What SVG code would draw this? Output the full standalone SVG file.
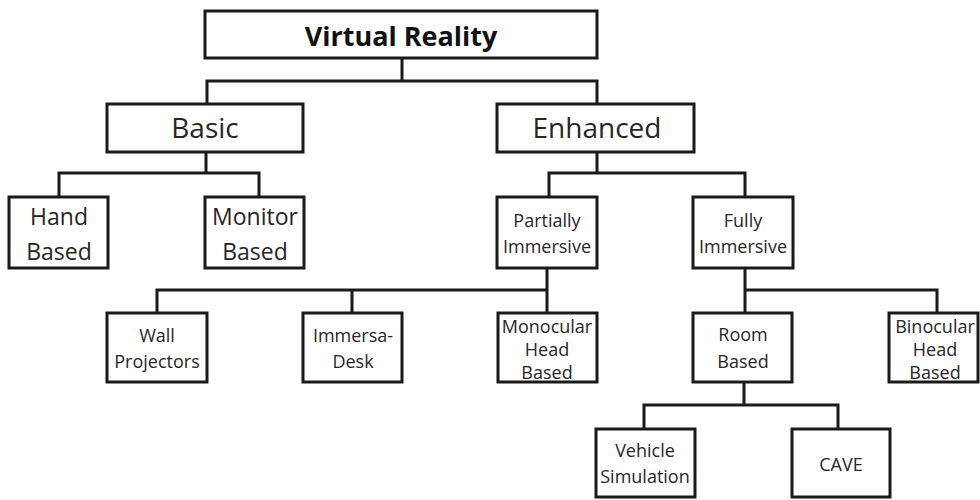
<svg xmlns="http://www.w3.org/2000/svg" width="980" height="500" viewBox="0 0 980 500">
<style>
.box{fill:#fff;stroke:#1a1a1a;stroke-width:3}
.con{fill:none;stroke:#1a1a1a;stroke-width:3}
text{font-family:"Open Sans","Noto Sans",sans-serif;fill:#262626;text-anchor:middle}
.t1{font-size:27px;font-weight:bold;fill:#111}
.t2{font-size:28px}
.t3{font-size:23px}
.t4{font-size:18px}
</style>
<rect width="980" height="500" fill="#fff"/>
<g id="connectors">
<path class="con" d="M402 58V81M207 104V81H597V104"/>
<path class="con" d="M206 152V173M59 197V173H259V197"/>
<path class="con" d="M597 152V173M549 197V173H745V197"/>
<path class="con" d="M547 268V313M157 313V290H547M352 290V313"/>
<path class="con" d="M745 268V313M745 290H937V313"/>
<path class="con" d="M744 382V405M644 429V405H838V429"/>
</g>
<g id="vr"><rect class="box" x="205" y="11" width="392" height="47"/><text class="t1" x="401" y="46">Virtual Reality</text></g>
<g id="basic"><rect class="box" x="107" y="104" width="196" height="48"/><text class="t2" x="205" y="138">Basic</text></g>
<g id="enhanced"><rect class="box" x="497" y="104" width="197" height="48"/><text class="t2" x="597" y="138">Enhanced</text></g>
<g id="hand"><rect class="box" x="9" y="197" width="99" height="71"/><text class="t3" x="59" y="225">Hand</text><text class="t3" x="59" y="260">Based</text></g>
<g id="monitor"><rect class="box" x="205" y="197" width="99" height="71"/><text class="t3" x="255" y="225">Monitor</text><text class="t3" x="255" y="260">Based</text></g>
<g id="partially"><rect class="box" x="497" y="197" width="100" height="71"/><text class="t4" x="547" y="227">Partially</text><text class="t4" x="547" y="253">Immersive</text></g>
<g id="fully"><rect class="box" x="693" y="197" width="100" height="71"/><text class="t4" x="743" y="227">Fully</text><text class="t4" x="743" y="253">Immersive</text></g>
<g id="wall"><rect class="box" x="107" y="313" width="100" height="69"/><text class="t4" x="157" y="342">Wall</text><text class="t4" x="157" y="368">Projectors</text></g>
<g id="immersa"><rect class="box" x="303" y="313" width="99" height="69"/><text class="t4" x="353" y="342">Immersa-</text><text class="t4" x="353" y="368">Desk</text></g>
<g id="monocular"><rect class="box" x="498" y="313" width="99" height="69"/><text class="t4" x="547" y="333">Monocular</text><text class="t4" x="547" y="356">Head</text><text class="t4" x="547" y="379">Based</text></g>
<g id="room"><rect class="box" x="693" y="313" width="99" height="69"/><text class="t4" x="743" y="341">Room</text><text class="t4" x="743" y="368">Based</text></g>
<g id="binocular"><rect class="box" x="889" y="313" width="89" height="69"/><text class="t4" x="935" y="333">Binocular</text><text class="t4" x="935" y="356">Head</text><text class="t4" x="935" y="379">Based</text></g>
<g id="vehicle"><rect class="box" x="596" y="429" width="99" height="68"/><text class="t4" x="645" y="457">Vehicle</text><text class="t4" x="645" y="483">Simulation</text></g>
<g id="cave"><rect class="box" x="792" y="429" width="98" height="68"/><text class="t4" x="841" y="471">CAVE</text></g>
</svg>
